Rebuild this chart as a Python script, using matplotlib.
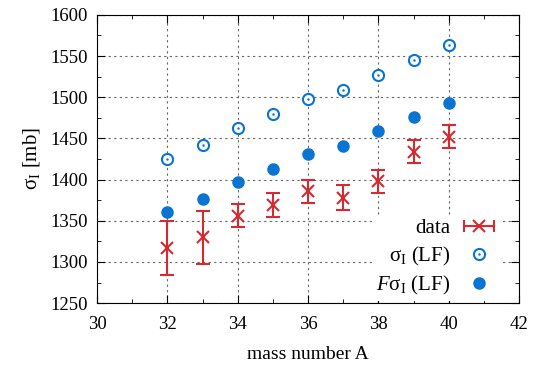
import numpy as np
import matplotlib.pyplot as plt
from matplotlib.ticker import MultipleLocator
from matplotlib.legend_handler import HandlerErrorbar

plt.rcParams['font.family'] = ['Liberation Serif', 'DejaVu Serif']
plt.rcParams['mathtext.fontset'] = 'custom'
plt.rcParams['mathtext.rm'] = 'Liberation Serif'
plt.rcParams['mathtext.it'] = 'Liberation Serif:italic'

# mass numbers
A = [32, 33, 34, 35, 36, 37, 38, 39, 40]
# measured reaction cross sections and errors
sig_data = [1317, 1330, 1356, 1369, 1386, 1378, 1398, 1434, 1452]
sig_err = [33, 32, 14, 15, 14, 15, 14, 14, 14]
# LF predictions
sig_lf = [1425, 1442, 1463, 1479, 1498, 1509, 1527, 1545, 1563]
fsig_lf = [1361, 1377, 1397, 1413, 1431, 1441, 1459, 1476, 1493]

red = '#d62a32'
blue = '#0a74d2'

fig = plt.figure(figsize=(5.4, 3.71), dpi=100)
ax = fig.add_axes([0.18, 0.183, 0.781, 0.777])

ax.errorbar(A, sig_data, yerr=sig_err, fmt='x', color=red, ms=9, mew=1.5,
            elinewidth=1.5, capsize=5, capthick=1.5, zorder=3)
ax.plot(A, sig_lf, 'o', ms=8, mfc='white', mec=blue, mew=1.5, zorder=3)
ax.plot(A, sig_lf, '.', ms=1.5, color=blue, zorder=4)
ax.plot(A, fsig_lf, 'o', ms=8, color=blue, zorder=3)

# legend proxies (gnuplot style: label left, symbol right)
h1 = ax.errorbar([np.nan], [np.nan], xerr=[1], fmt='x', color=red, ms=9,
                 mew=1.5, elinewidth=1.5, capsize=4, capthick=1.5)
h2a, = ax.plot([], [], 'o', ms=8, mfc='white', mec=blue, mew=1.5)
h2b, = ax.plot([], [], '.', ms=1.5, color=blue)
h3, = ax.plot([], [], 'o', ms=8, color=blue)
leg = ax.legend([h1, (h2a, h2b), h3],
                ['data', 'σ$_{\\rm I}$ (LF)', '$F$σ$_{\\rm I}$ (LF)'],
                loc='lower right', markerfirst=False, frameon=True,
                fontsize=15, handlelength=1.6, borderpad=0.2, labelspacing=0.3,
                handletextpad=0.6, borderaxespad=0.1, fancybox=False,
                bbox_to_anchor=(0.96, 0.0),
                handler_map={type(h1): HandlerErrorbar(xerr_size=0.72)})
leg.get_frame().set_edgecolor('none')
leg.get_frame().set_facecolor('white')
leg.get_frame().set_alpha(1)
leg.set_zorder(2.5)

ax.set_xlim(30, 42)
ax.set_ylim(1250, 1600)
ax.xaxis.set_major_locator(MultipleLocator(2))
ax.xaxis.set_minor_locator(MultipleLocator(1))
ax.yaxis.set_major_locator(MultipleLocator(50))
ax.yaxis.set_minor_locator(MultipleLocator(25))
ax.tick_params(which='both', direction='in', top=True, right=True, labelsize=13.5)
ax.tick_params(which='major', length=6, pad=7)
ax.tick_params(which='minor', length=3)
ax.tick_params(axis='x', which='major', pad=9)
ax.grid(True, which='major', color='#666666', linestyle=(0, (2, 3)), lw=0.8)
ax.set_axisbelow(True)

ax.set_xlabel('mass number A', fontsize=14, labelpad=10)
ax.set_ylabel('σ$_{\\rm I}$ [mb]', fontsize=15, labelpad=6)

fig.savefig('out.png', dpi=100)
